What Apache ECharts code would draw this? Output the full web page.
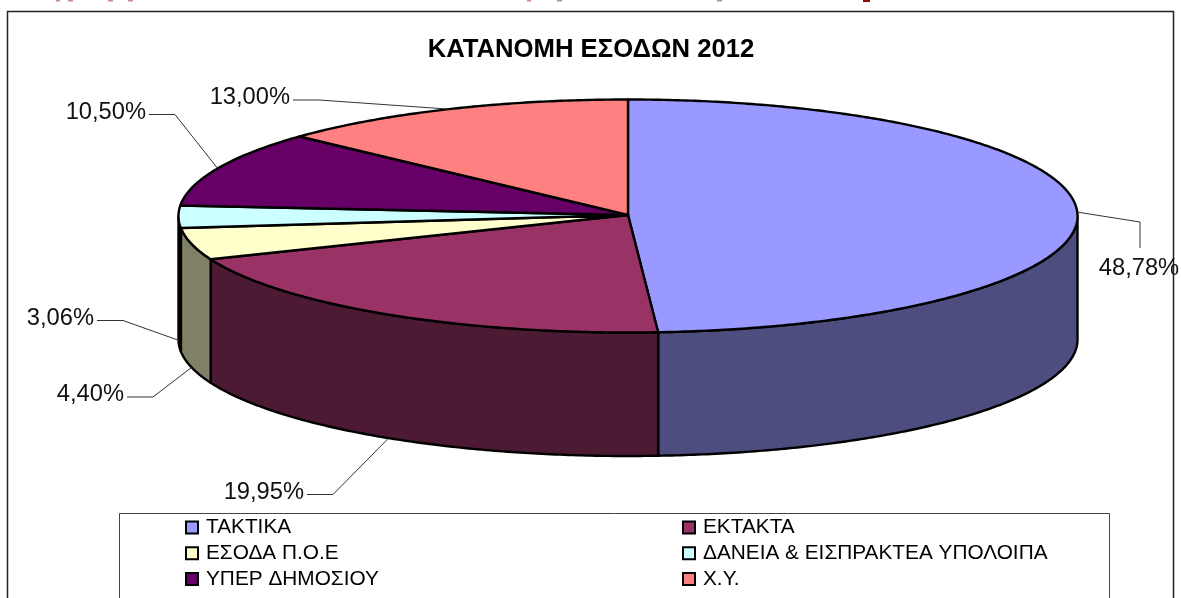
<!DOCTYPE html>
<html>
<head>
<meta charset="utf-8">
<style>
  html, body { margin: 0; padding: 0; background: #fff; }
  #chart { width: 1181px; height: 598px; }
</style>
<script src="https://cdn.jsdelivr.net/npm/echarts@6/dist/echarts.min.js"></script>
</head>
<body>
<div id="chart"></div>
<script>
const categories = ['ΤΑΚΤΙΚΑ', 'ΕΚΤΑΚΤΑ', 'ΕΣΟΔΑ Π.Ο.Ε', 'ΔΑΝΕΙΑ & ΕΙΣΠΡΑΚΤΕΑ ΥΠΟΛΟΙΠΑ', 'ΥΠΕΡ ΔΗΜΟΣΙΟΥ', 'Χ.Υ.'];
const values = [48.78, 19.95, 4.40, 3.06, 10.50, 13.00];
const topColors = ['#9999FF', '#993366', '#FFFFCC', '#CCFFFF', '#660066', '#FF8080'];
const sideColors = ['#4D4D80', '#4D1A33', '#808066', '#668080', '#330033', '#804040'];
const legendLeft = [categories[0], categories[2], categories[4]];
const legendRight = [categories[1], categories[3], categories[5]];

// pie geometry
const cx = 628, cy = 216, rx = 449.5, ry = 116.5, depth = 123.5;
// label layout: elbow of the leader line and where the text sits
const labelLayout = [
  { elbow: [1140, 222], end: [1140, 248], text: [1139, 268], align: 'center' },
  { elbow: [333, 494.5], end: [307, 494.5], text: [304, 492], align: 'right' },
  { elbow: [153, 397], end: [127, 397], text: [124, 394], align: 'right' },
  { elbow: [123, 320.5], end: [97, 320.5], text: [94, 318], align: 'right' },
  { elbow: [175, 114.5], end: [149, 114.5], text: [146, 112], align: 'right' },
  { elbow: [319, 100], end: [293, 100], text: [290, 97], align: 'right' }
];
// bottoms of the letters of the page text cut off above the chart
const cutOffBits = [[56, 4], [68, 5], [108, 5], [128, 5], [527, 4], [557, 5], [717, 5]];

const total = values.reduce((a, b) => a + b, 0);
const starts = [];
values.reduce((acc, v, i) => { starts[i] = acc; return acc + v; }, 0);
const toAngle = v => v / total * Math.PI * 2;

function rim(a, dy) {
  return [cx + rx * Math.sin(a), cy - ry * Math.cos(a) + (dy || 0)];
}
function arc(a0, a1, dy) {
  const n = Math.max(2, Math.ceil((a1 - a0) / 0.01));
  const pts = [];
  for (let i = 0; i <= n; i++) pts.push(rim(a0 + (a1 - a0) * i / n, dy));
  return pts;
}

function renderSlice(i) {
  const a0 = toAngle(starts[i]);
  const a1 = toAngle(starts[i] + values[i]);
  const faceStyle = { lineWidth: 2.4, stroke: '#000', lineJoin: 'round' };
  const children = [];

  // outer wall, only the front half of the rim shows
  const s0 = Math.max(a0, Math.PI / 2);
  const s1 = Math.min(a1, Math.PI * 1.5);
  if (s1 > s0) {
    children.push({
      type: 'polygon',
      z2: 1,
      shape: { points: arc(s0, s1, 0).concat(arc(s0, s1, depth).reverse()) },
      style: Object.assign({ fill: sideColors[i] }, faceStyle)
    });
  }
  children.push({
    type: 'polygon',
    z2: 2,
    shape: { points: [[cx, cy - 1]].concat(arc(a0, a1, 0)) },
    style: Object.assign({ fill: topColors[i] }, faceStyle)
  });

  // leader line and value label
  const mid = (a0 + a1) / 2;
  const anchor = rim(mid, Math.cos(mid) < 0 ? depth : 0);
  const lay = labelLayout[i];
  children.push({
    type: 'polyline',
    z2: 3,
    shape: { points: [anchor, lay.elbow, lay.end] },
    style: { stroke: '#333', lineWidth: 1, fill: null }
  });
  children.push({
    type: 'text',
    z2: 4,
    x: lay.text[0],
    y: lay.text[1],
    style: {
      text: values[i].toFixed(2).replace('.', ',') + '%',
      font: '23.7px "Liberation Sans", Arial, sans-serif',
      fill: '#111',
      align: lay.align,
      verticalAlign: 'middle'
    }
  });
  return { type: 'group', children };
}

const chart = echarts.init(document.getElementById('chart'), null, { renderer: 'canvas' });

const legendBase = {
  orient: 'vertical',
  top: 517,
  icon: 'rect',
  itemWidth: 12,
  itemHeight: 12,
  itemGap: 4.7,
  padding: 0,
  selectedMode: false,
  itemStyle: { borderColor: '#000', borderWidth: 2 },
  textStyle: { fontFamily: '"Liberation Sans", Arial, sans-serif', fontSize: 20.8, color: '#000', padding: [0, 0, 0, 3] }
};

chart.setOption({
  animation: false,
  backgroundColor: '#fff',
  title: {
    text: 'ΚΑΤΑΝΟΜΗ ΕΣΟΔΩΝ 2012',
    left: 586,
    top: 32,
    textAlign: 'center',
    textStyle: { fontFamily: '"Liberation Sans", Arial, sans-serif', fontSize: 25.7, fontWeight: 'bold', color: '#000' }
  },
  legend: [
    Object.assign({}, legendBase, { left: 185, data: legendLeft }),
    Object.assign({}, legendBase, { left: 682, data: legendRight })
  ],
  graphic: [
    { type: 'rect', silent: true, z: -1, shape: { x: 7.5, y: 11.5, width: 1166, height: 620 }, style: { fill: 'none', stroke: '#222', lineWidth: 1.5 } },
    { type: 'rect', silent: true, z: -1, shape: { x: 119.5, y: 513.5, width: 990, height: 120 }, style: { fill: 'none', stroke: '#444', lineWidth: 1 } },
    { type: 'rect', silent: true, shape: { x: 863, y: 0, width: 7, height: 2 }, style: { fill: '#8B0A0A' } }
  ].concat(cutOffBits.map(b => ({
    type: 'rect',
    silent: true,
    shape: { x: b[0], y: 0, width: b[1], height: 1.5 },
    style: { fill: '#C98A8A' }
  }))),
  series: categories.map((name, i) => ({
    type: 'custom',
    name,
    coordinateSystem: 'none',
    silent: true,
    itemStyle: { color: topColors[i] },
    data: [values[i]],
    renderItem: () => renderSlice(i)
  }))
});
</script>
</body>
</html>
